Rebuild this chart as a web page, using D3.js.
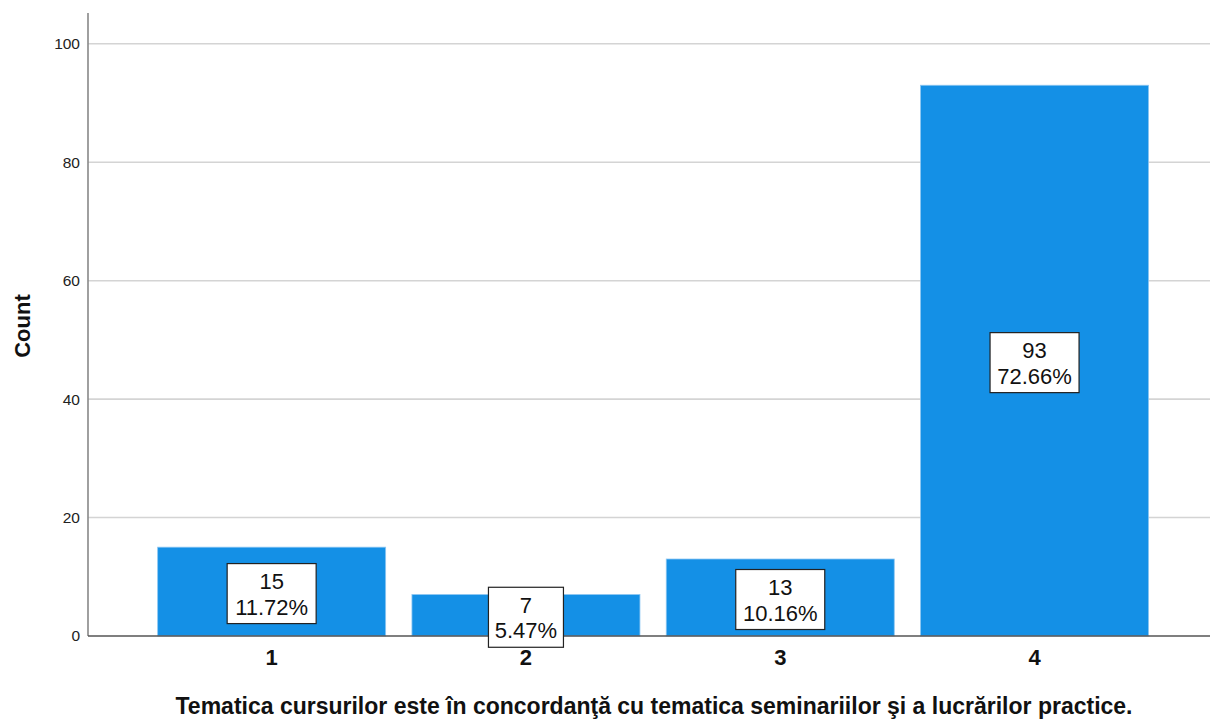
<!DOCTYPE html>
<html><head><meta charset="utf-8">
<script src="https://cdn.jsdelivr.net/npm/d3@7/dist/d3.min.js"></script>
<style>body{margin:0;background:#fff}svg{display:block;font-family:Arial,"Liberation Sans",sans-serif}</style>
</head><body>
<svg id="c" width="1210" height="721"></svg>
<script>
const categories = ["1","2","3","4"];
const counts = [15, 7, 13, 93];
const percents = ["11.72%","5.47%","10.16%","72.66%"];
const yTicks = [0,20,40,60,80,100];
const xTitle = "Tematica cursurilor este în concordanţă cu tematica seminariilor şi a lucrărilor practice.";
const yTitle = "Count";

const svg = d3.select("#c");
const axisX = 88, plotRight = 1210, y0 = 636, yTop = 13;
const y = d3.scaleLinear().domain([0, 105.2]).range([y0, yTop]);
const pi = 0.1034;
const x = d3.scaleBand().domain(categories).range([144.5, 1161.7]).paddingInner(pi).paddingOuter(pi/2);

// gridlines
svg.append("g").selectAll("line").data(yTicks.filter(d=>d>0)).join("line")
  .attr("x1", axisX).attr("x2", plotRight)
  .attr("y1", d=>y(d)).attr("y2", d=>y(d))
  .attr("stroke", "#d4d4d4").attr("stroke-width", 1.6);

// bars
const data = categories.map((c,i)=>({c, v:counts[i], p:percents[i]}));
svg.append("g").selectAll("rect").data(data).join("rect")
  .attr("x", d=>x(d.c)).attr("width", x.bandwidth())
  .attr("y", d=>y(d.v)).attr("height", d=>y0 - y(d.v))
  .attr("fill", "#1490e6").attr("stroke", "#8cc6f2").attr("stroke-width", 0.8);

// axes
const yAxis = d3.axisLeft(y).tickValues(yTicks).tickSize(0).tickPadding(8);
const gy = svg.append("g").attr("transform", `translate(${axisX},0)`).call(yAxis);
gy.select(".domain").remove();
gy.selectAll("text").attr("font-size", 15.5).attr("fill", "#222").attr("font-family", "Arial, 'Liberation Sans', sans-serif");
svg.append("line").attr("x1", axisX).attr("x2", axisX).attr("y1", yTop).attr("y2", y0)
  .attr("stroke", "#888").attr("stroke-width", 1.6);

const xAxis = d3.axisBottom(x).tickSize(0).tickPadding(13);
const gx = svg.append("g").attr("transform", `translate(0,${y0})`).call(xAxis);
gx.select(".domain").remove();
gx.selectAll("text").attr("font-size", 22).attr("font-weight", "bold").attr("fill", "#111")
  .attr("font-family", "Arial, 'Liberation Sans', sans-serif");
svg.append("line").attr("x1", axisX).attr("x2", plotRight).attr("y1", y0).attr("y2", y0)
  .attr("stroke", "#555").attr("stroke-width", 1.4);

// labels
const lab = svg.append("g").selectAll("g").data(data).join("g")
  .attr("transform", d=>`translate(${x(d.c)+x.bandwidth()/2},${(y(d.v)+y0)/2 + 2})`);
lab.append("rect")
  .attr("x", d=> d.p.length>5 ? -44.5 : -37.5)
  .attr("width", d=> d.p.length>5 ? 89 : 75)
  .attr("y", -30).attr("height", 60)
  .attr("fill", "#fff").attr("stroke", "#222").attr("stroke-width", 1.2);
lab.append("text").attr("text-anchor","middle").attr("font-size", 22).attr("fill","#111")
  .attr("y", -4.5).text(d=>d.v);
lab.append("text").attr("text-anchor","middle").attr("font-size", 22).attr("fill","#111")
  .attr("y", 21).text(d=>d.p);

// titles
svg.append("text").attr("x", 654).attr("y", 714).attr("text-anchor","middle")
  .attr("font-size", 23).attr("font-weight","bold").attr("fill","#111").text(xTitle);
svg.append("text").attr("transform","translate(30,326) rotate(-90)").attr("text-anchor","middle")
  .attr("font-size", 22).attr("font-weight","bold").attr("fill","#111").text(yTitle);
</script>
</body></html>
